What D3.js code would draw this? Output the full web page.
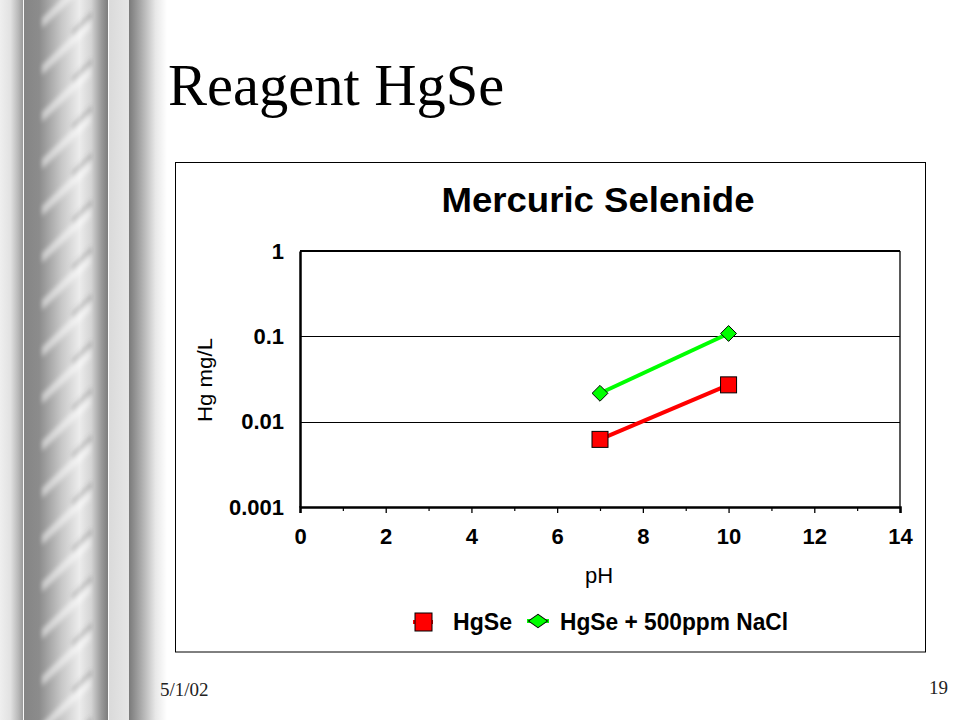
<!DOCTYPE html>
<html>
<head>
<meta charset="utf-8">
<script src="https://cdn.jsdelivr.net/npm/d3@7"></script>
<style>
  html, body { margin: 0; padding: 0; background: #fff; }
  svg { display: block; }
</style>
</head>
<body>
<svg id="chart" width="960" height="720"></svg>
<script>
// ---- data ----
const slideTitle = "Reagent HgSe";
const chartTitle = "Mercuric Selenide";
const xLabel = "pH";
const yLabel = "Hg mg/L";
const footerDate = "5/1/02";
const footerPage = "19";
const xTicks = [0, 2, 4, 6, 8, 10, 12, 14];
const xMinorTicks = [1, 3, 5, 7, 9, 11, 13];
const yTicks = [0.001, 0.01, 0.1, 1];
const yTickLabels = ["0.001", "0.01", "0.1", "1"];
const seriesNames = ["HgSe", "HgSe + 500ppm NaCl"];
const pH = [7, 10];
const hgse = [0.0062, 0.027];
const hgseNaCl = [0.0215, 0.108];

const svg = d3.select("#chart");
const defs = svg.append("defs");

// ---- left decorative column ----
function grad(id, stops) {
  const g = defs.append("linearGradient").attr("id", id)
    .attr("x1", "0%").attr("x2", "100%").attr("y1", "0%").attr("y2", "0%");
  stops.forEach(s => g.append("stop").attr("offset", s[0]).attr("stop-color", s[1]));
}
grad("g0", [["0%", "#efefef"], ["45%", "#e2e2e2"], ["80%", "#b8b8b8"], ["100%", "#9a9a9a"]]);
grad("g1", [["0%", "#858585"], ["18%", "#8c8c8c"], ["45%", "#c8c8c8"], ["66%", "#ececec"], ["80%", "#d4d4d4"], ["92%", "#9a9a9a"], ["100%", "#7c7c7c"]]);
grad("g2", [["0%", "#dadada"], ["100%", "#e6e6e6"]]);
grad("g3", [["0%", "#7a7a7a"], ["30%", "#a8a8a8"], ["70%", "#e8e8e8"], ["100%", "#ffffff"]]);
const blur = defs.append("filter").attr("id", "blur").attr("x", "-20%").attr("y", "-20%")
  .attr("width", "140%").attr("height", "140%");
blur.append("feGaussianBlur").attr("stdDeviation", 2.2);
defs.append("clipPath").attr("id", "cyl").append("rect")
  .attr("x", 38).attr("y", 0).attr("width", 56).attr("height", 720);

const deco = svg.append("g");
deco.append("rect").attr("x", 0).attr("y", 0).attr("width", 23).attr("height", 720).attr("fill", "url(#g0)");
deco.append("rect").attr("x", 23).attr("y", 0).attr("width", 1).attr("height", 720).attr("fill", "#fafafa");
deco.append("rect").attr("x", 24).attr("y", 0).attr("width", 84).attr("height", 720).attr("fill", "url(#g1)");
deco.append("rect").attr("x", 108).attr("y", 0).attr("width", 1).attr("height", 720).attr("fill", "#fafafa");
deco.append("rect").attr("x", 109).attr("y", 0).attr("width", 20).attr("height", 720).attr("fill", "url(#g2)");
deco.append("rect").attr("x", 129).attr("y", 0).attr("width", 38).attr("height", 720).attr("fill", "url(#g3)");
const stripes = d3.range(-1, 17);
const sgrp = deco.append("g").attr("clip-path", "url(#cyl)");
const sgrpIn = sgrp.append("g").attr("filter", "url(#blur)");
stripes.forEach(i => {
  const y0 = 63 + i * 47;
  sgrpIn.append("path")
    .attr("d", `M42,${y0 + 2} L90,${y0 - 44} L90,${y0 - 34} L42,${y0 + 12} Z`)
    .attr("fill", "#ffffff").attr("opacity", 0.5);
  sgrpIn.append("path")
    .attr("d", `M72,${y0 - 26} L92,${y0 - 45} L92,${y0 - 52} L72,${y0 - 33} Z`)
    .attr("fill", "#6a6a6a").attr("opacity", 0.3);
});

// ---- slide title ----
svg.append("text").attr("x", 168).attr("y", 105)
  .attr("font-family", "'Liberation Serif', 'Times New Roman', serif")
  .attr("font-size", 58.5).attr("fill", "#000").text(slideTitle);

// ---- footer ----
svg.append("text").attr("x", 160).attr("y", 696)
  .attr("font-family", "'Liberation Serif', 'Times New Roman', serif")
  .attr("font-size", 19).attr("fill", "#222").text(footerDate);
svg.append("text").attr("x", 948).attr("y", 694).attr("text-anchor", "end")
  .attr("font-family", "'Liberation Serif', 'Times New Roman', serif")
  .attr("font-size", 19).attr("fill", "#222").text(footerPage);

// ---- chart box ----
svg.append("rect").attr("x", 175.5).attr("y", 162.5).attr("width", 750).attr("height", 489.5)
  .attr("fill", "#fff").attr("stroke", "#000").attr("stroke-width", 1);

const font = "Arial, 'Liberation Sans', Helvetica, sans-serif";
svg.append("text").attr("x", 598).attr("y", 212).attr("text-anchor", "middle")
  .attr("font-family", font).attr("font-weight", "bold").attr("font-size", 35)
  .attr("textLength", 313).attr("lengthAdjust", "spacingAndGlyphs")
  .text(chartTitle);

// ---- scales ----
const x = d3.scaleLinear().domain([0, 14]).range([300, 900]);
const y = d3.scaleLog().domain([0.001, 1]).range([507, 251]);

// plot area frame & gridlines
const plot = svg.append("g");
plot.selectAll("line.grid").data([0.01, 0.1]).join("line")
  .attr("x1", x(0)).attr("x2", x(14))
  .attr("y1", d => Math.round(y(d)) + 0.5).attr("y2", d => Math.round(y(d)) + 0.5)
  .attr("stroke", "#000").attr("stroke-width", 1);
plot.append("line").attr("x1", x(0)).attr("x2", x(14)).attr("y1", y(1)).attr("y2", y(1))
  .attr("stroke", "#000").attr("stroke-width", 2);
plot.append("line").attr("x1", x(14)).attr("x2", x(14)).attr("y1", y(1)).attr("y2", y(0.001))
  .attr("stroke", "#000").attr("stroke-width", 1.3);

// x axis
const xAxis = d3.axisBottom(x).tickValues(xTicks).tickSize(6).tickPadding(15).tickFormat(d3.format("d"));
const gx = svg.append("g").attr("transform", `translate(0,${y(0.001)})`).call(xAxis);
gx.attr("font-size", 22).attr("font-family", font).attr("font-weight", "bold");
gx.select(".domain").attr("stroke-width", 2.5);
gx.selectAll(".tick line").attr("stroke-width", 1.3);
gx.selectAll(".tick text").attr("fill", "#000").style("font-size", "22px");
const xMinor = d3.axisBottom(x).tickValues(xMinorTicks).tickSize(4).tickFormat("");
const gxm = svg.append("g").attr("transform", `translate(0,${y(0.001)})`).call(xMinor);
gxm.select(".domain").remove();
gxm.selectAll(".tick line").attr("stroke-width", 1.2);

// y axis
const yAxis = d3.axisLeft(y).tickValues(yTicks).tickSize(0).tickPadding(16)
  .tickFormat((d, i) => yTickLabels[i]);
const gy = svg.append("g").attr("transform", `translate(${x(0)},0)`).call(yAxis);
gy.attr("font-size", 22).attr("font-family", font).attr("font-weight", "bold");
gy.select(".domain").attr("stroke-width", 2.5);
gy.selectAll(".tick text").attr("fill", "#000").style("font-size", "22px");

// axis titles
svg.append("text").attr("x", 599).attr("y", 583).attr("text-anchor", "middle")
  .attr("font-family", font).attr("font-size", 22).text(xLabel);
svg.append("text").attr("transform", "translate(212,380) rotate(-90)").attr("text-anchor", "middle")
  .attr("font-family", font).attr("font-size", 20)
  .attr("textLength", 84).attr("lengthAdjust", "spacingAndGlyphs").text(yLabel);

// ---- series ----
const line = d3.line().x(d => x(d[0])).y(d => y(d[1]));
const redData = pH.map((p, i) => [p, hgse[i]]);
const greenData = pH.map((p, i) => [p, hgseNaCl[i]]);
svg.append("path").datum(redData).attr("d", line).attr("fill", "none")
  .attr("stroke", "#ff0000").attr("stroke-width", 4);
svg.append("path").datum(greenData).attr("d", line).attr("fill", "none")
  .attr("stroke", "#00ff00").attr("stroke-width", 4);

const sq = 16;
svg.selectAll("rect.red").data(redData).join("rect")
  .attr("x", d => x(d[0]) - sq / 2).attr("y", d => y(d[1]) - sq / 2)
  .attr("width", sq).attr("height", sq)
  .attr("fill", "#ff0000").attr("stroke", "#000").attr("stroke-width", 1);
const dia = d3.symbol().type(d3.symbolDiamond2).size(160);
svg.selectAll("path.green").data(greenData).join("path")
  .attr("transform", d => `translate(${x(d[0])},${y(d[1])})`)
  .attr("d", dia).attr("fill", "#00ff00").attr("stroke", "#000").attr("stroke-width", 1);

// ---- legend ----
const lg = svg.append("g");
lg.append("line").attr("x1", 413).attr("x2", 433).attr("y1", 622).attr("y2", 622)
  .attr("stroke", "#ff0000").attr("stroke-width", 4);
lg.append("rect").attr("x", 415).attr("y", 613).attr("width", 17).attr("height", 18)
  .attr("fill", "#ff0000").attr("stroke", "#000").attr("stroke-width", 1);
lg.append("text").attr("x", 453).attr("y", 630).attr("font-family", font)
  .attr("font-weight", "bold").attr("font-size", 23)
  .attr("textLength", 59).attr("lengthAdjust", "spacingAndGlyphs").text(seriesNames[0]);
lg.append("line").attr("x1", 527).attr("x2", 549).attr("y1", 621).attr("y2", 621)
  .attr("stroke", "#00ff00").attr("stroke-width", 4);
lg.append("path").attr("transform", "translate(538,621) scale(1.2,0.85)")
  .attr("d", dia).attr("fill", "#00ff00").attr("stroke", "#000").attr("stroke-width", 1);
lg.append("text").attr("x", 560).attr("y", 630).attr("font-family", font)
  .attr("font-weight", "bold").attr("font-size", 23)
  .attr("textLength", 228).attr("lengthAdjust", "spacingAndGlyphs").text(seriesNames[1]);
</script>
</body>
</html>
